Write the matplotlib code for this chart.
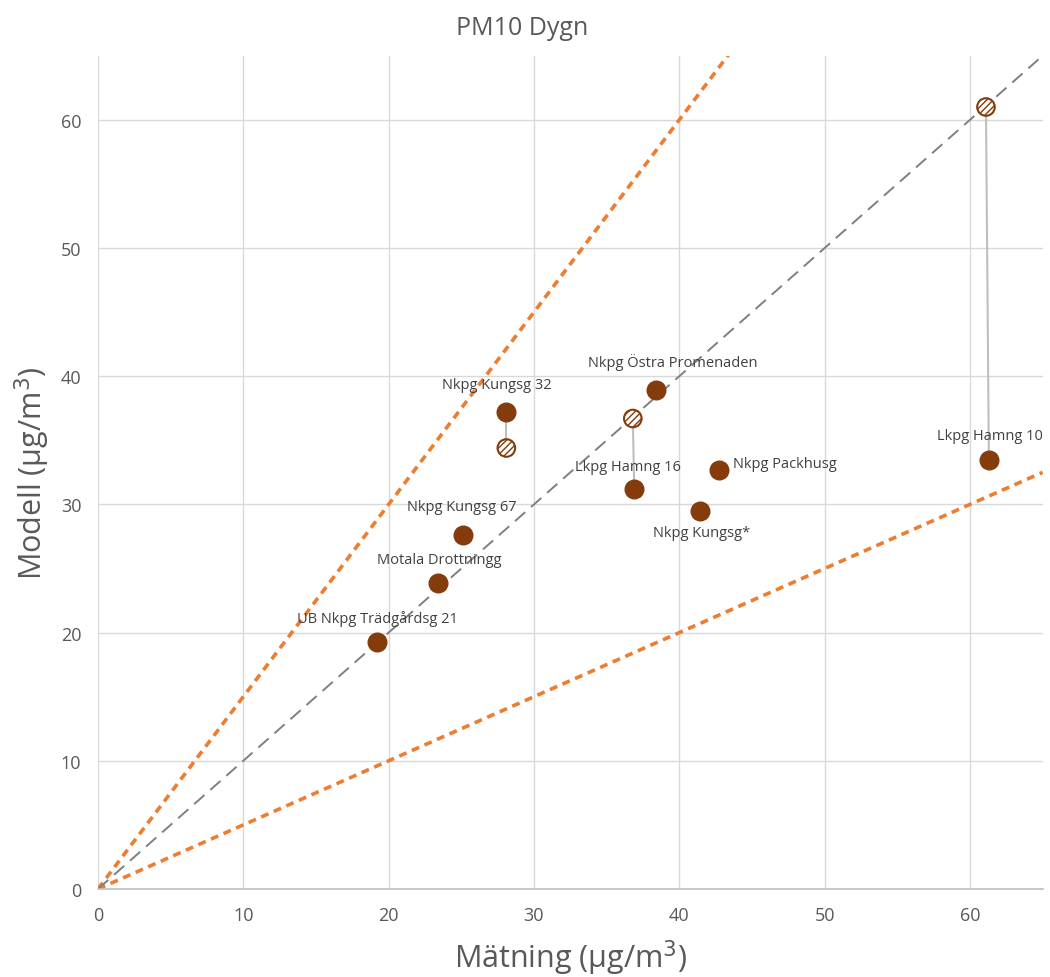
import matplotlib
matplotlib.use("Agg")
import matplotlib.pyplot as plt

plt.rcParams['font.family'] = ['Open Sans', 'DejaVu Sans']

# stations: name, measured (x), modelled (y)
names = ['UB Nkpg Trädgårdsg 21', 'Motala Drottningg', 'Nkpg Kungsg 67', 'Nkpg Kungsg 32',
         'Lkpg Hamng 16', 'Nkpg Östra Promenaden', 'Nkpg Kungsg*', 'Nkpg Packhusg', 'Lkpg Hamng 10']
matning = [19.2, 23.4, 25.1, 28.1, 36.9, 38.4, 41.4, 42.7, 61.3]
modell = [19.3, 23.9, 27.6, 37.2, 31.2, 38.9, 29.5, 32.7, 33.5]

# alternative model values (hatched markers) for some stations
alt_names = ['Nkpg Kungsg 32', 'Lkpg Hamng 16', 'Lkpg Hamng 10']
alt_matning = [28.1, 36.8, 61.1]
alt_modell = [34.4, 36.7, 61.0]

# label offsets in pixels (dx, dy, ha)
offsets = {
    'UB Nkpg Trädgårdsg 21': (0, 24, 'center'),
    'Motala Drottningg': (1, 23, 'center'),
    'Nkpg Kungsg 67': (-1, 29, 'center'),
    'Nkpg Kungsg 32': (-10, 28, 'center'),
    'Lkpg Hamng 16': (-6, 23, 'center'),
    'Nkpg Östra Promenaden': (17, 29, 'center'),
    'Nkpg Kungsg*': (2, -22, 'center'),
    'Nkpg Packhusg': (14, 6, 'left'),
    'Lkpg Hamng 10': (1, 24, 'center'),
}

brown = '#843C0C'
fig = plt.figure(figsize=(10.5, 9.78), dpi=100)
ax = fig.add_axes([0.0933, 0.090, 0.8997, 0.852])

xl = [0, 65]
ax.plot(xl, [v * 1.5 for v in xl], color='#ED7D31', lw=2.6, ls=(0, (2.2, 1.6)), zorder=2)
ax.plot(xl, [v * 0.5 for v in xl], color='#ED7D31', lw=2.6, ls=(0, (2.2, 1.6)), zorder=2)
ax.plot(xl, xl, color='#7F7F7F', lw=1.4, ls=(0, (7, 4)), zorder=2)

for n, xa, ya in zip(alt_names, alt_matning, alt_modell):
    i = names.index(n)
    ax.plot([matning[i], xa], [modell[i], ya], color='#BFBFBF', lw=1.5, zorder=3)

ax.scatter(alt_matning, alt_modell, s=160, facecolor='white', edgecolor=brown,
           hatch='/////', linewidth=1.5, zorder=4)
ax.scatter(matning, modell, s=180, color=brown, zorder=5)

for n, x, y in zip(names, matning, modell):
    dx, dy, ha = offsets[n]
    ax.annotate(n, (x, y), xytext=(dx, dy), textcoords='offset pixels',
                ha=ha, va='center', fontsize=10.5, color='#404040', zorder=6)

ax.set_xlim(0, 65)
ax.set_ylim(0, 65)
ax.set_xticks(range(0, 61, 10))
ax.set_yticks(range(0, 61, 10))
ax.grid(True, color='#D9D9D9', lw=1)
ax.set_axisbelow(True)
for s in ['top', 'right', 'left']:
    ax.spines[s].set_visible(False)
ax.spines['bottom'].set_color('#BFBFBF')
ax.spines['bottom'].set_linewidth(1.2)
ax.tick_params(length=0, labelsize=13, colors='#595959', pad=12)

ax.set_xlabel('Mätning (µg/m$^3$)', fontsize=22, color='#595959', labelpad=10)
ax.set_ylabel('Modell (µg/m$^3$)', fontsize=22, color='#595959', labelpad=6)
fig.text(0.497, 0.971, 'PM10 Dygn', fontsize=18, color='#595959', ha='center', va='center')

fig.savefig('out.png', dpi=100)
